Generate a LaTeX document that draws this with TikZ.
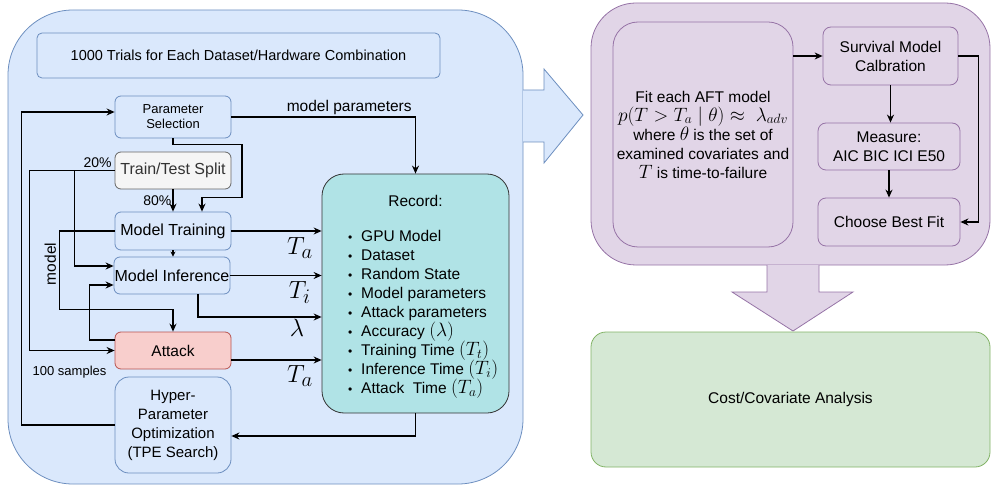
\documentclass[tikz,border=0pt]{standalone}
\usepackage{fontspec}
\setmainfont{Liberation Sans}
\usepackage{amssymb}
\usepackage{graphicx}
\usetikzlibrary{arrows.meta}
\definecolor{bfill}{HTML}{DAE8FC}
\definecolor{bline}{HTML}{6C8EBF}
\definecolor{pfill}{HTML}{E1D5E7}
\definecolor{pline}{HTML}{9673A6}
\definecolor{gfill}{HTML}{D5E8D4}
\definecolor{gline}{HTML}{82B366}
\definecolor{rfill}{HTML}{F8CECC}
\definecolor{rline}{HTML}{B85450}
\definecolor{sfill}{HTML}{F5F5F5}
\definecolor{sline}{HTML}{666666}
\definecolor{stext}{HTML}{333333}
\definecolor{cfill}{HTML}{B0E3E6}
\newcommand{\fsz}[1]{\fontsize{#1}{19}\selectfont\lineskiplimit=-\maxdimen}
\newcommand{\mth}[1]{\scalebox{1.12}{\fontsize{17.28}{19}\selectfont$#1$}}
\newcommand{\recitem}[1]{\makebox[13pt][l]{\fsz{12}\textbullet}#1}

\begin{document}
\begin{tikzpicture}[x=1pt, y=-1pt, >={Stealth[length=8pt,width=7pt]},
	box/.style={draw=bline, fill=bfill, line width=0.8pt, rounded corners=6pt,
		align=center, minimum width=116pt, inner sep=0pt, font=\fsz{15.5}},
	pbox/.style={draw=pline, fill=pfill, line width=0.8pt, rounded corners=8pt,
		align=center, inner sep=0pt, font=\fsz{15.5}},
	line/.style={line width=1.2pt, ->},
	lab/.style={font=\fsz{24.88}, inner sep=1pt}]
		\useasboundingbox (0,0) rectangle (992,486);
		\node[box, rounded corners=65pt, minimum width=515, minimum height=474] (exp) at (265.5,247) {};
		\draw[draw=bline, fill=bfill, line width=0.8pt] (523,90) -- (544,90) -- (544,69) -- (583,115) -- (544,163) -- (544,142) -- (523,142);
		\node[pbox, rounded corners=45pt, minimum width=399, minimum height=262] (fitc) at (790.5,134) {};
		\draw[draw=pline, fill=pfill, line width=0.8pt] (767,265) -- (767,292) -- (732,292) -- (793,331) -- (853,292) -- (819,292) -- (819,265);
		\node[box, rounded corners=5pt, minimum width=403, minimum height=45, font=\fsz{14.5}] (title) at (238.5,55.5) {1000 Trials for Each Dataset/Hardware Combination};
		\node[box, minimum height=42, font=\fontsize{13}{15}\selectfont] (psel) at (173,117) {Parameter\\Selection};
		\node[box, draw=sline, fill=sfill, text=stext, minimum height=37, font=\fsz{16}] (split) at (173,170.5) {Train/Test Split};
		\node[box, minimum height=38, font=\fsz{16}] (train) at (173,231) {Model Training};
		\node[box, minimum height=37, font=\fsz{16}] (infer) at (172,275.5) {Model Inference};
		\node[box, draw=rline, fill=rfill, minimum height=37] (attack) at (173,350.5) {Attack};
		\node[box, minimum height=96, rounded corners=14pt, font=\fsz{15}] (hpo) at (173,425) {Hyper-\\Parameter\\Optimization\\(TPE Search)};
		\node[draw=black!80, fill=cfill, line width=0.8pt, rounded corners=22pt, minimum width=187, minimum height=239] (rec) at (415.5,293.5) {};
		\node[font=\fsz{15.5}] (rectitle) at (415.5,201) {Record:};
		\node[anchor=west, align=left, inner sep=0pt, font=\fsz{15.5}] (reclist) at (348,314) {\recitem{GPU Model}\\\recitem{Dataset}\\\recitem{Random State}\\\recitem{Model parameters}\\\recitem{Attack parameters}\\\recitem{Accuracy \mth{(\lambda)}}\\\recitem{Training Time \mth{(T_t)}}\\\recitem{Inference Time \mth{(T_i)}}\\\recitem{Attack\ \ Time \mth{(T_a)}}};
		\node[pbox, rounded corners=25pt, minimum width=180, minimum height=225] (aft) at (703,134.5) {Fit each AFT model\\\mth{p(T>T_a \mid \theta) \approx\ \lambda_{adv}}\\where \mth{\theta} is the set of\\examined covariates and\\\mth{T} is time-to-failure};
		\node[pbox, minimum width=135, minimum height=58] (calib) at (890.5,56) {Survival Model\\Calbration};
		\node[pbox, minimum width=142, minimum height=47] (meas) at (889,146.5) {Measure:\\AIC BIC ICI E50};
		\node[pbox, minimum width=142, minimum height=48] (best) at (889,222) {Choose Best Fit};
		\node[draw=gline, fill=gfill, line width=0.8pt, rounded corners=15pt, minimum width=399, minimum height=135, font=\fsz{15.5}] (cost) at (790.5,399.5) {Cost/Covariate Analysis};
		\draw[line] (psel.east) -| node[pos=0.32, above, inner sep=2pt, font=\fsz{15.5}] {model parameters} (rec.north);
		\draw[line] (psel.south) -- ++(0,6) -| ++(69,53) -| ([xshift=29]train.north);
		\draw[line] (split) -- node[left, inner sep=1pt, font=\fsz{14}] {80\%} (train);
		\draw[line] (split.west) -- node[pos=0.2, above, inner sep=2pt, font=\fsz{14}] {20\%} ++(-85,0) |- node[pos=0.735, below=12pt, font=\fsz{13}] {100 samples} (attack.west);
		\draw[line] ([xshift=-40]split.west) |- ([yshift=9.5]infer.west);
		\draw[line] (train.west) -- ++(-55,0) |- node[pos=0.21, above, rotate=90, inner sep=3pt, font=\fsz{15.5}] {model} ([yshift=22]attack.north) -- (attack.north);
		\draw[line, -{Stealth[length=5pt,width=5pt]}] (train.south) -- (train.south |- infer.north);
		\draw[line] (train.east) -- node[pos=0.76, below=5pt, lab] {$T_a$} (train.east -| rec.west);
		\draw[line] (infer.east) -- node[pos=0.76, below=4pt, lab] {$T_i$} (infer.east -| rec.west);
		\draw[line] ([xshift=26]infer.south) |- node[pos=0.9, below=1pt, lab] {$\lambda$} ([yshift=-23.5]rec.west);
		\draw[line] ([yshift=10.5]attack.west) -- ++(-25,0) |- ([yshift=-9.5]infer.west);
		\draw[line] ([yshift=-9.5]attack.east) -- node[pos=0.76, below=4pt, lab] {$T_a$} ([yshift=-9.5]attack.east -| rec.west);
		\draw[line] (hpo.west) -- ++(-93,0) |- ([yshift=5]psel.west);
		\draw[line] (rec.south) |- ([yshift=-11]hpo.east);
		\draw[line] (aft.east |- calib.west) -- (calib.west);
		\draw[line] (calib.south) -- (calib.south |- meas.north);
		\draw[line] (meas) -- (best);
		\draw[line] (calib.east) -- ++(20,0) |- (best.east);
		\end{tikzpicture}
\end{document}
